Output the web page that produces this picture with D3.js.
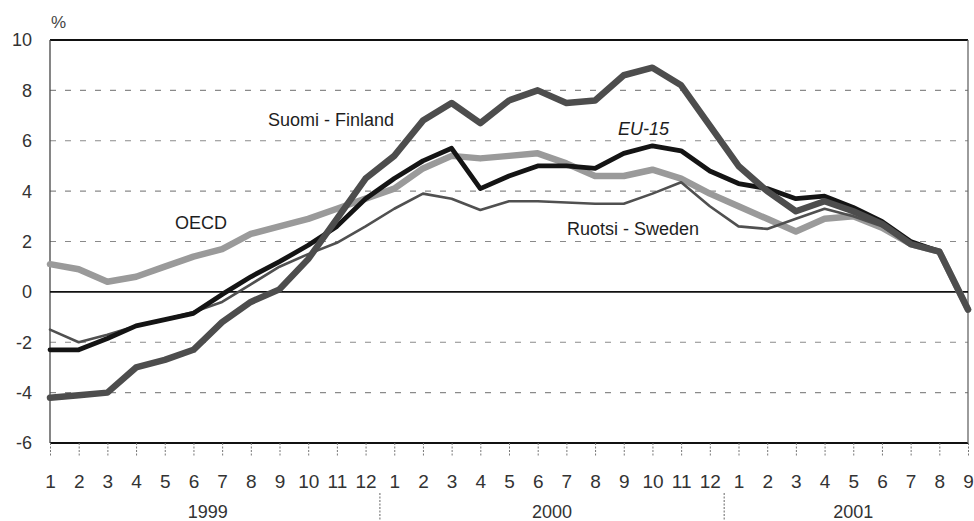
<!DOCTYPE html>
<html><head><meta charset="utf-8">
<script src="https://cdn.jsdelivr.net/npm/d3@7"></script>
<style>
html,body{margin:0;padding:0;background:#fff;}
svg{display:block;font-family:"Liberation Sans",Arial,sans-serif;}
</style></head>
<body>
<svg id="chart" width="974" height="521"></svg>
<script>
const years = ["1999","2000","2001"];
const monthsPerYear = [12, 12, 9];
const yTicks = [-6,-4,-2,0,2,4,6,8,10];

const finland = [-4.2,-4.1,-4.0,-3.0,-2.7,-2.3,-1.2,-0.4,0.1,1.3,2.9,4.5,
                 5.4,6.8,7.5,6.7,7.6,8.0,7.5,7.6,8.6,8.9,8.2,6.6,
                 5.0,4.0,3.2,3.6,3.2,2.7,1.9,1.6,-0.7];
const eu15 = [-2.3,-2.3,-1.85,-1.35,-1.1,-0.85,-0.1,0.6,1.2,1.85,2.6,3.7,
              4.5,5.2,5.7,4.1,4.6,5.0,5.0,4.9,5.5,5.8,5.6,4.8,
              4.3,4.1,3.7,3.8,3.35,2.8,2.0,1.6,-0.7];
const oecd = [1.1,0.9,0.4,0.6,1.0,1.4,1.7,2.3,2.6,2.9,3.3,3.7,
              4.1,4.9,5.4,5.3,5.4,5.5,5.1,4.6,4.6,4.85,4.5,3.9,
              3.4,2.9,2.4,2.9,3.0,2.55,1.9,1.6,-0.7];
const sweden = [-1.5,-2.0,-1.7,-1.35,-1.1,-0.8,-0.4,0.3,1.0,1.5,1.95,2.6,
                3.3,3.9,3.7,3.25,3.6,3.6,3.55,3.5,3.5,3.9,4.35,3.4,
                2.6,2.5,2.9,3.3,3.0,2.6,1.9,1.6,-0.7];

const monthLabels = [];
monthsPerYear.forEach(n => { for (let m = 1; m <= n; m++) monthLabels.push(String(m)); });
const N = monthLabels.length;

const svg = d3.select("#chart");
const L = 50, R = 968, T = 40, B = 443;

const x = d3.scaleLinear().domain([0, N - 1]).range([L, R]);
const y = d3.scaleLinear().domain([-6, 10]).range([B, T]);

// gridlines
svg.append("g").selectAll("line")
  .data(yTicks.filter(v => v !== 0 && v !== 10 && v !== -6))
  .join("line")
  .attr("x1", L).attr("x2", R)
  .attr("y1", d => y(d)).attr("y2", d => y(d))
  .attr("stroke", "#8a8a8a").attr("stroke-width", 1.2)
  .attr("stroke-dasharray", "6,9");

// frame
svg.append("line").attr("x1", L).attr("x2", R).attr("y1", T).attr("y2", T)
  .attr("stroke", "#111").attr("stroke-width", 2);
svg.append("line").attr("x1", L).attr("x2", R).attr("y1", B).attr("y2", B)
  .attr("stroke", "#111").attr("stroke-width", 2);
svg.append("line").attr("x1", L).attr("x2", L).attr("y1", T).attr("y2", B)
  .attr("stroke", "#444").attr("stroke-width", 1.3);
svg.append("line").attr("x1", R).attr("x2", R).attr("y1", T).attr("y2", B)
  .attr("stroke", "#666").attr("stroke-width", 1.3);
// zero line
svg.append("line").attr("x1", L).attr("x2", R).attr("y1", y(0)).attr("y2", y(0))
  .attr("stroke", "#111").attr("stroke-width", 1.6);

// y axis labels
svg.append("g").selectAll("text").data(yTicks).join("text")
  .attr("x", 32).attr("y", d => y(d)).attr("dy", "0.36em")
  .attr("text-anchor", "end").attr("font-size", 18).attr("fill", "#333")
  .text(d => d);
svg.append("text").attr("x", 51).attr("y", 28).attr("font-size", 17)
  .attr("fill", "#444").text("%");

// x ticks
const xAxis = d3.axisBottom(x).tickValues(d3.range(N)).tickSize(13)
  .tickFormat(i => monthLabels[i]).tickPadding(19);
const gx = svg.append("g").attr("transform", `translate(0,${B})`).call(xAxis);
gx.select(".domain").remove();
gx.selectAll(".tick line").attr("stroke", "#777").attr("stroke-width", 1).attr("stroke-dasharray", "2,1.5");
gx.selectAll(".tick text").attr("font-size", 19).attr("fill", "#333")
  .attr("font-family", "Liberation Sans, Arial, sans-serif");

// year labels and separators
let start = 0;
monthsPerYear.forEach((n, k) => {
  const c = x(start + (n - 1) / 2);
  svg.append("text").attr("x", c).attr("y", 518).attr("text-anchor", "middle")
    .attr("font-size", 18).attr("fill", "#333").text(years[k]);
  if (k > 0) {
    const sx = x(start - 0.5);
    svg.append("line").attr("x1", sx).attr("x2", sx).attr("y1", 493).attr("y2", 521)
      .attr("stroke", "#666").attr("stroke-width", 1).attr("stroke-dasharray", "2,1.5");
  }
  start += n;
});

// lines
const line = d3.line().x((d, i) => x(i)).y(d => y(d)).curve(d3.curveLinear);
const series = [
  {data: oecd, color: "#9a9a9a", w: 6.5},
  {data: sweden, color: "#505050", w: 2.6},
  {data: eu15, color: "#141414", w: 4.8},
  {data: finland, color: "#4d4d4d", w: 6.5}
];
svg.append("g").selectAll("path").data(series).join("path")
  .attr("d", d => line(d.data)).attr("fill", "none")
  .attr("stroke", d => d.color).attr("stroke-width", d => d.w)
  .attr("stroke-linejoin", "round").attr("stroke-linecap", "round");

// series labels
const labels = [
  {t: "Suomi - Finland", x: 268, y: 126, it: false},
  {t: "EU-15", x: 618, y: 135, it: true},
  {t: "OECD", x: 175, y: 229, it: false},
  {t: "Ruotsi - Sweden", x: 567, y: 235, it: false}
];
svg.append("g").selectAll("text").data(labels).join("text")
  .attr("x", d => d.x).attr("y", d => d.y).attr("font-size", 18)
  .attr("font-style", d => d.it ? "italic" : "normal")
  .attr("fill", "#1e1e1e").text(d => d.t);
</script>
</body></html>
